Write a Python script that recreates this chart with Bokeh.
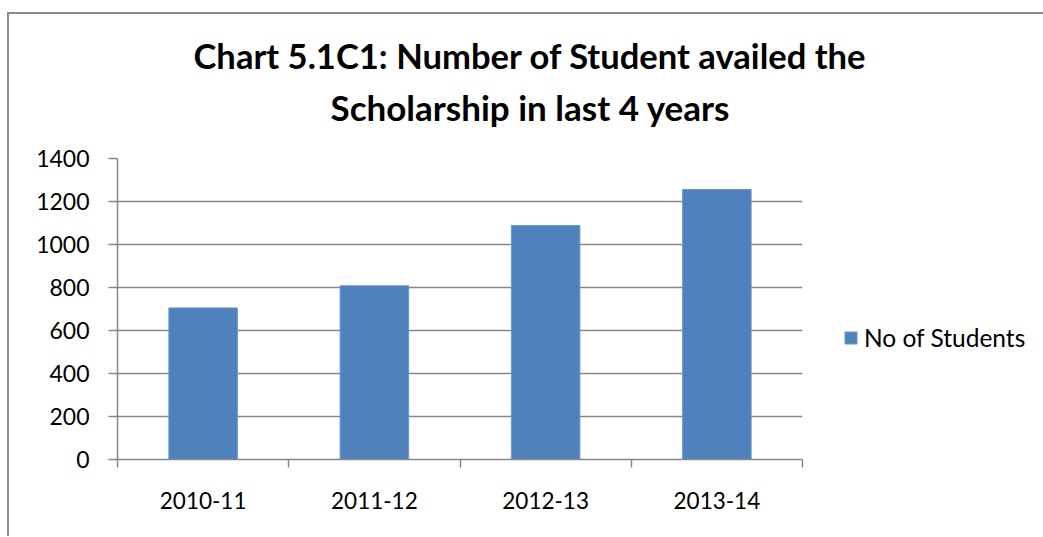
from bokeh.plotting import figure
from bokeh.models import Range1d, FixedTicker, Title, Legend, LegendItem, ColumnDataSource
from bokeh.embed import file_html
from bokeh.resources import INLINE

categories = ["2010-11", "2011-12", "2012-13", "2013-14"]
students = [705, 808, 1088, 1256]
y_ticks = [0, 200, 400, 600, 800, 1000, 1200, 1400]
title_line1 = "Chart 5.1C1: Number of Student availed the"
title_line2 = "Scholarship in last 4 years"
series_name = "No of Students"

FONT = "Lato"
GRID = "#878787"
BAR = "#4F81BD"

xs = [i + 0.5 for i in range(len(categories))]
src = ColumnDataSource(dict(x=xs, top=students, cat=categories))

p = figure(frame_width=685, frame_height=301, output_backend="svg", toolbar_location=None,
           x_range=Range1d(0, len(categories)), y_range=Range1d(0, 1400),
           min_border_left=108, min_border_right=240, min_border_top=144, min_border_bottom=77,
           margin=(12, 0, 0, 7),
           styles={"border-left": "2px solid #8c8c8c", "border-top": "2px solid #8c8c8c"})
p.outline_line_color = None

r = p.vbar(x="x", top="top", width=0.4, source=src, fill_color=BAR, line_color="#6d94c6", line_width=1)

# axes
p.xaxis.ticker = FixedTicker(ticks=xs, minor_ticks=list(range(len(categories) + 1)))
p.xaxis.major_label_overrides = {x: c for x, c in zip(xs, categories)}
p.xaxis.major_tick_line_color = None
p.xaxis.minor_tick_line_color = GRID
p.xaxis.minor_tick_line_width = 1.5
p.xaxis.minor_tick_in = 0
p.xaxis.minor_tick_out = 8
p.xaxis.axis_line_color = GRID
p.xaxis.axis_line_width = 1.5
p.xaxis.major_label_standoff = 24
p.xaxis.major_label_text_font = FONT
p.xaxis.major_label_text_font_size = "22.5px"
p.xaxis.major_label_text_color = "#000000"

p.yaxis.ticker = FixedTicker(ticks=y_ticks)
p.yaxis.minor_tick_line_color = None
p.yaxis.major_tick_line_color = GRID
p.yaxis.major_tick_line_width = 1.5
p.yaxis.major_tick_in = 0
p.yaxis.major_tick_out = 9
p.yaxis.axis_line_color = GRID
p.yaxis.axis_line_width = 1.5
p.yaxis.major_label_standoff = 19
p.yaxis.major_label_text_font = FONT
p.yaxis.major_label_text_font_size = "23px"
p.yaxis.major_label_text_color = "#000000"

p.xgrid.grid_line_color = None
p.ygrid.grid_line_color = GRID
p.ygrid.grid_line_width = 1.5

# titles (second line first: later-added titles sit above)
t2 = Title(text=title_line2, align="left", offset=213, text_font=FONT, text_font_size="35px",
           text_font_style="bold", text_color="#000000", standoff=62)
t1 = Title(text=title_line1, align="left", offset=76, text_font=FONT, text_font_size="34.6px",
           text_font_style="bold", text_color="#000000", standoff=-47)
p.add_layout(t2, "above")
p.add_layout(t1, "above")

legend = Legend(items=[LegendItem(label=series_name, renderers=[r])], location=(41, 107),
                label_text_font=FONT, label_text_font_size="24.5px", label_text_color="#000000",
                glyph_width=15, glyph_height=15, label_standoff=6, padding=0, margin=0,
                border_line_color=None, background_fill_alpha=0)
p.add_layout(legend, "right")

open("out.html", "w").write(file_html(p, INLINE))
